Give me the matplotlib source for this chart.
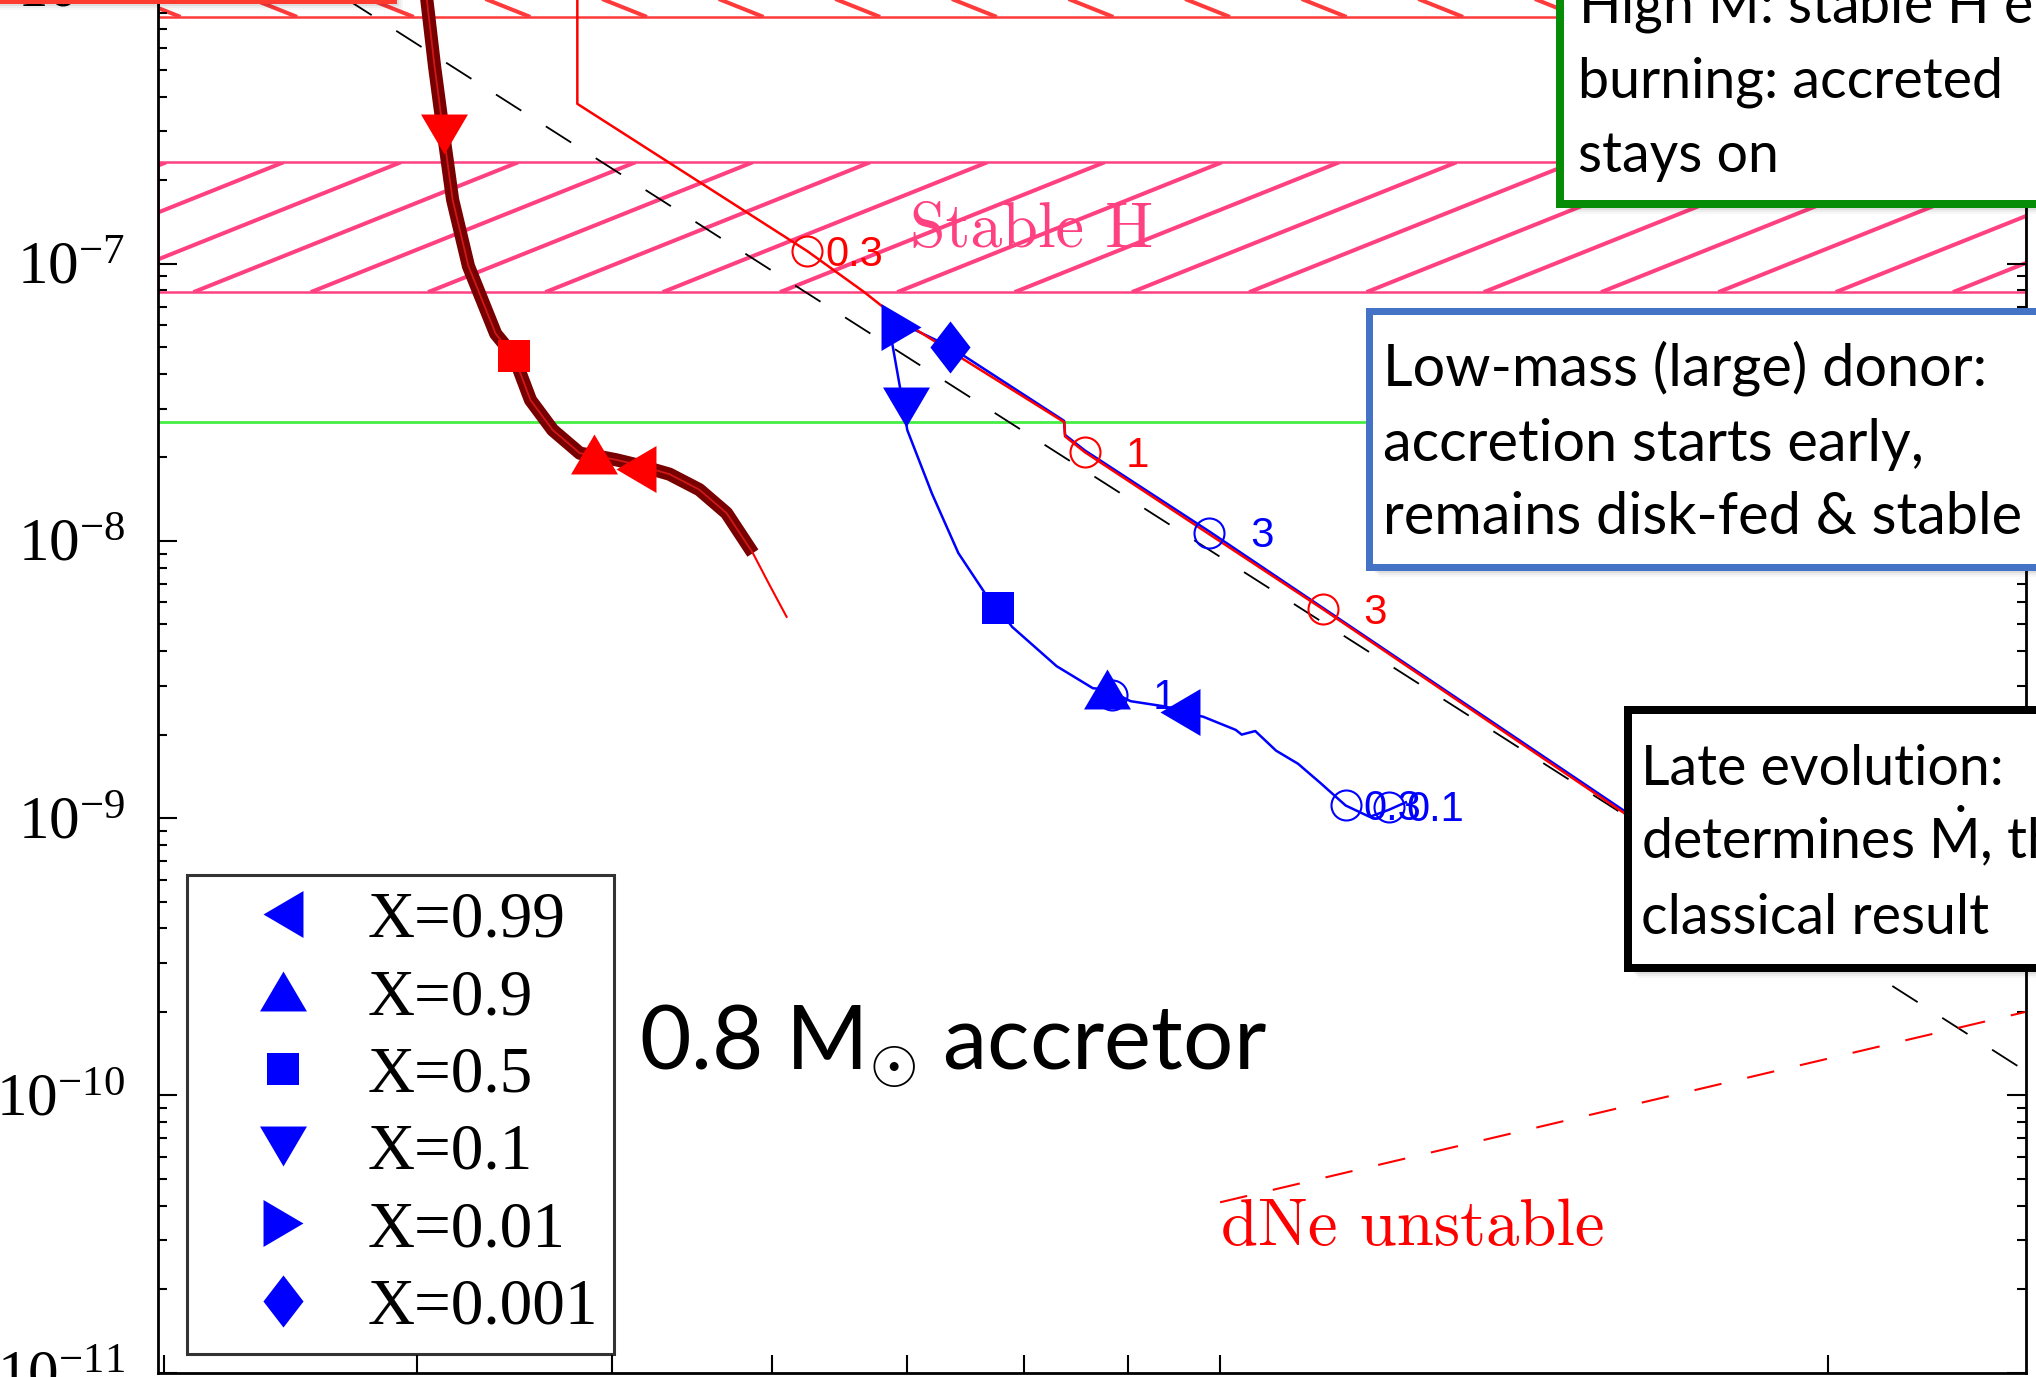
import numpy as np
import matplotlib
matplotlib.use("Agg")
import matplotlib.pyplot as plt
import matplotlib.ticker as mticker
import matplotlib.transforms as mtrans
from matplotlib.patches import Rectangle
from matplotlib.lines import Line2D
from matplotlib.collections import LineCollection

plt.rcParams['mathtext.fontset'] = 'custom'
plt.rcParams['mathtext.rm'] = 'Lato'
plt.rcParams['mathtext.it'] = 'Lato:italic'
plt.rcParams['mathtext.bf'] = 'Lato:bold'
plt.rcParams['mathtext.fallback'] = 'cm'
plt.rcParams['lines.scale_dashes'] = False

# ---------------- data ----------------
x_limits = [2.98, 25.07]
y_limits = [1e-11, 8.93e-7]

y_tick_values = [1e-11, 1e-10, 1e-9, 1e-8, 1e-7, 1e-6]
y_tick_labels = [r"$\mathdefault{10^{-11}}$", r"$\mathdefault{10^{-10}}$", r"$\mathdefault{10^{-9}}$",
                 r"$\mathdefault{10^{-8}}$", r"$\mathdefault{10^{-7}}$", r"$\mathdefault{10^{-6}}$"]

# gravitational-wave driven power law (black dashed)
gw_x = [2.98, 25.07]
gw_y = [2.44e-6, 1.22e-10]

# dNe unstable boundary (red dashed)
dne_x = [10.0, 25.07]
dne_y = [4.11e-11, 2.0e-10]

stable_h_band = [7.89e-8, 2.32e-7]
high_mdot_band = [7.76e-7, 1.0e-5]
green_level = 2.68e-8

# thick maroon track (early phase)
maroon_x = [4.04, 4.083, 4.125, 4.168, 4.244, 4.378, 4.469, 4.555, 4.672, 4.819, 4.898,
            5.023, 5.143, 5.337, 5.522, 5.696, 5.87]
maroon_y = [1.0e-6, 5.15e-7, 2.94e-7, 1.70e-7, 9.79e-8, 5.58e-8, 4.65e-8, 3.22e-8, 2.51e-8,
            2.07e-8, 2.03e-8, 1.96e-8, 1.88e-8, 1.74e-8, 1.53e-8, 1.26e-8, 9.03e-9]
maroon_tail_x = [5.87, 5.98, 6.10]
maroon_tail_y = [9.03e-9, 6.97e-9, 5.32e-9]

# red track
red_track_x = [4.805, 4.805, 5.522, 6.245, 6.665, 6.906, 8.372, 8.38, 8.57, 11.24, 15.83, 17.82]
red_track_y = [1.0e-6, 3.77e-7, 1.97e-7, 1.11e-7, 7.89e-8, 6.43e-8, 2.68e-8, 2.38e-8, 2.09e-8,
               5.68e-9, 1.05e-9, 5.83e-10]

# blue track
blue_track_x = [12.36, 12.12, 11.86, 11.54, 11.21, 10.93, 10.66, 10.41, 10.25, 10.18, 9.81, 9.55,
                9.38, 9.03, 8.79, 8.65, 8.30, 7.89, 7.76, 7.65, 7.42, 7.20, 7.00, 6.96, 6.88, 6.91,
                7.35, 8.37, 8.38, 8.57, 9.88, 11.24, 15.83, 17.82]
blue_track_y = [1.14e-9, 1.07e-9, 1.01e-9, 1.11e-9, 1.34e-9, 1.57e-9, 1.75e-9, 2.06e-9, 2.00e-9,
                2.08e-9, 2.32e-9, 2.42e-9, 2.53e-9, 2.64e-9, 2.91e-9, 2.94e-9, 3.53e-9, 4.89e-9,
                5.74e-9, 6.46e-9, 9.03e-9, 1.48e-8, 2.51e-8, 3.22e-8, 5.18e-8, 6.22e-8, 5.01e-8,
                2.71e-8, 2.41e-8, 2.12e-8, 1.08e-8, 5.74e-9, 1.07e-9, 5.90e-10]

# surface hydrogen abundance markers
x_labels = ["X=0.99", "X=0.9", "X=0.5", "X=0.1", "X=0.01", "X=0.001"]
blue_marker_x = [9.55, 8.79, 7.76, 6.99, 6.95, 7.35]
blue_marker_y = [2.42e-9, 2.91e-9, 5.74e-9, 3.05e-8, 5.90e-8, 5.01e-8]
red_marker_x = [5.14, 4.90, 4.47, 4.125]
red_marker_y = [1.82e-8, 2.05e-8, 4.65e-8, 2.94e-7]

# time markers (open circles)
red_time_x = [6.245, 8.57, 11.24]
red_time_y = [1.11e-7, 2.09e-8, 5.68e-9]
red_time_labels = ["0.3", "1", "3"]
blue_time_x = [8.845, 9.88, 11.54, 12.12]
blue_time_y = [2.79e-9, 1.07e-8, 1.11e-9, 1.10e-9]
blue_time_labels = ["1", "3", "0.3", "0.1"]

# ---------------- styles ----------------
W, H = 2036, 1377
PINK = '#FF4081'
HRED = '#FF3A3A'
BLUE = '#0000FF'
RED = '#FF0000'

tri = 0.851
marker_shapes = [
    [(-tri, 0), (tri, 1), (tri, -1)],          # left
    [(0, tri), (-1, -tri), (1, -tri)],         # up
    [(-1, -1), (1, -1), (1, 1), (-1, 1)],      # square
    [(0, -tri), (-1, tri), (1, tri)],          # down
    [(tri, 0), (-tri, 1), (-tri, -1)],         # right
    [(0, 1), (0.77, 0), (0, -1), (-0.77, 0)],  # diamond
]
marker_sizes = [33.8, 33.8, 23.0, 33.8, 33.8, 37.5]

fig = plt.figure(figsize=(W / 100, H / 100), dpi=100)
ax = fig.add_axes([158.4 / W, (H - 1372.5) / H, 1867.6 / W, 1372.5 / H])
ax.set_xscale('log')
ax.set_yscale('log')
ax.set_xlim(*x_limits)
ax.set_ylim(*y_limits)

for s in ['left', 'bottom', 'right']:
    ax.spines[s].set_linewidth(2.0)
ax.spines['top'].set_visible(False)

ax.xaxis.set_major_locator(mticker.LogLocator(base=10, numticks=20))
ax.xaxis.set_minor_locator(mticker.LogLocator(base=10, subs=np.arange(2, 10), numticks=50))
ax.yaxis.set_major_locator(mticker.LogLocator(base=10, numticks=20))
ax.yaxis.set_minor_locator(mticker.LogLocator(base=10, subs=np.arange(2, 10), numticks=50))
ax.xaxis.set_minor_formatter(mticker.NullFormatter())
ax.yaxis.set_minor_formatter(mticker.NullFormatter())
ax.tick_params(axis='x', which='both', direction='in', length=13, width=1.5,
               labelbottom=False, top=False, bottom=True)
ax.tick_params(axis='y', which='major', direction='in', length=13.7, width=1.5,
               left=True, right=True, labelleft=False)
ax.tick_params(axis='y', which='minor', direction='in', length=6.5, width=1.5,
               left=True, right=True)

# y tick labels (Times-like)
lab_trans = mtrans.blended_transform_factory(ax.transAxes, ax.transData) + \
    mtrans.ScaledTranslation(-24 / 72, -14.5 / 72, fig.dpi_scale_trans)
for v, s in zip(y_tick_values, y_tick_labels):
    ax.text(0, v, s, transform=lab_trans, ha='right', va='baseline', fontsize=44,
            family='Liberation Serif', clip_on=False)

# ---------------- bands ----------------
def band(ylo, yhi, color, first_px, spacing_px, slope, updir, lw_h, z):
    rect = Rectangle((x_limits[0], ylo), x_limits[1] - x_limits[0], yhi - ylo,
                     facecolor='none', edgecolor=color, lw=1.8, zorder=z)
    ax.add_patch(rect)
    (_, py0), = ax.transData.transform([(x_limits[0], ylo)])
    (_, py1), = ax.transData.transform([(x_limits[0], yhi)])
    py1 = min(py1, py0 + 400)
    segs = []
    inv = ax.transData.inverted()
    for k in range(-10, 30):
        xb = first_px + spacing_px * k
        dx = (py1 - py0) / slope
        xt = xb + dx if updir else xb - dx
        p = inv.transform([(xb, py0), (xt, py1)])
        segs.append(p)
    lc = LineCollection(segs, colors=color, linewidths=lw_h, zorder=z)
    ax.add_collection(lc)
    lc.set_clip_path(rect)

band(stable_h_band[0], stable_h_band[1], PINK, 193.5, 117.3, 0.4, True, 2.9, 1.5)
band(high_mdot_band[0], high_mdot_band[1], HRED, 180.5, 116.6, 0.4, False, 2.9, 1.5)

ax.axhline(green_level, color='#44EE44', lw=2.0, zorder=1.6)

# ---------------- lines ----------------
ax.plot(gw_x, gw_y, color='black', lw=1.3, dashes=(21.6, 21), zorder=2)
ax.plot(dne_x, dne_y, color=RED, lw=1.5, dashes=(20, 19), zorder=2)

ax.plot(maroon_x, maroon_y, color='#780000', lw=9.5, solid_capstyle='butt',
        solid_joinstyle='round', zorder=3)
ax.plot(maroon_x, maroon_y, color='#D01818', lw=1.3, zorder=3.1)
ax.plot(maroon_tail_x, maroon_tail_y, color=RED, lw=1.5, zorder=3)

ax.plot(blue_track_x, blue_track_y, color=BLUE, lw=1.8, zorder=3.2)
ax.plot(red_track_x, red_track_y, color=RED, lw=1.8, zorder=3.3)

# markers
for i in range(len(blue_marker_x)):
    ax.plot([blue_marker_x[i]], [blue_marker_y[i]], ls='none', marker=marker_shapes[i],
            ms=marker_sizes[i], mfc=BLUE, mec=BLUE, mew=0, zorder=4)
for i in range(len(red_marker_x)):
    ax.plot([red_marker_x[i]], [red_marker_y[i]], ls='none', marker=marker_shapes[i],
            ms=marker_sizes[i], mfc=RED, mec=RED, mew=0, zorder=4)

def time_marks(xs, ys, labs, color):
    ax.plot(xs, ys, ls='none', marker='o', ms=21.6, mfc='none', mec=color, mew=1.5, zorder=4.5)
    for x, y, l in zip(xs, ys, labs):
        ax.annotate(f"{l:>3}", (x, y), xytext=(13, -10.5), textcoords='offset points',
                    ha='left', va='baseline', color=color, fontsize=30,
                    family='Liberation Sans', zorder=4.6)

time_marks(red_time_x, red_time_y, red_time_labels, RED)
time_marks(blue_time_x, blue_time_y, blue_time_labels, BLUE)

# region labels
ax.text(910 / W, 1 - 247 / H, "Stable H", transform=fig.transFigure, fontsize=46,
        family='cmr10', color=PINK, ha='left', va='baseline', zorder=5)
ax.text(1221 / W, 1 - 1245 / H, "dNe unstable", transform=fig.transFigure, fontsize=48,
        family='cmr10', color=RED, ha='left', va='baseline', zorder=5)
ax.text(639 / W, 1 - 1069 / H, r"0.8 M$_{\odot}$ accretor", transform=fig.transFigure,
        fontsize=64, family='Lato', color='black', ha='left', va='baseline', zorder=5)

# legend
handles = [Line2D([], [], ls='none', marker=marker_shapes[i], ms=marker_sizes[i],
                  mfc=BLUE, mec=BLUE, mew=0) for i in range(len(x_labels))]
leg = ax.legend(handles, x_labels, loc='upper left', bbox_to_anchor=(0.0153, 0.3625),
                borderaxespad=0, frameon=True, fancybox=False,
                prop={'family': 'Liberation Serif', 'size': 47},
                handlelength=2.44, handletextpad=0.07, borderpad=0.25, labelspacing=0.27)
leg.get_frame().set_edgecolor('black')
leg.get_frame().set_linewidth(2.2)
leg.set_zorder(10)

# ---------------- annotation boxes (figure pixels, from top-left) ----------------
def fig_box(x0, y0, x1, y1, ec, lw):
    fx0, fx1 = x0 / W, x1 / W
    fy0, fy1 = 1 - y1 / H, 1 - y0 / H
    for i, a in enumerate([0.10, 0.08, 0.06, 0.04, 0.03]):
        d = 2 + 2 * i
        fig.add_artist(Rectangle((fx0 + d / W, fy0 - d / H), fx1 - fx0, fy1 - fy0,
                                 transform=fig.transFigure, facecolor='black', alpha=a,
                                 edgecolor='none', zorder=20))
    fig.add_artist(Rectangle((fx0, fy0), fx1 - fx0, fy1 - fy0, transform=fig.transFigure,
                             facecolor='white', edgecolor=ec, lw=lw * 0.72, zorder=21))

def box_text(x, y, s, size=40):
    fig.text(x / W, 1 - y / H, s, fontsize=size, family='Lato', ha='left', va='baseline',
             zorder=22)

fig_box(-100, -100, 393, 0, '#FF3B30', 7)
fig_box(1560, -100, 2200, 204, '#078C07', 8)
fig_box(1369, 311, 2200, 567, '#4472C4', 7)
fig_box(1628, 710, 2200, 968, 'black', 8)

box_text(1578, 23, r"High $\dot{\mathrm{M}}$: stable H envelope")
box_text(1578, 97, "burning: accreted")
box_text(1578, 172, "stays on")
box_text(1383, 385, "Low-mass (large) donor:", 41.5)
box_text(1383, 461, "accretion starts early,", 41.5)
box_text(1383, 534, "remains disk-fed & stable", 41.5)
box_text(1641, 785, "Late evolution:")
box_text(1641, 859, r"determines $\dot{\mathrm{M}}$, thus")
box_text(1641, 934, "classical result")

fig.savefig("out.png", dpi=100)
